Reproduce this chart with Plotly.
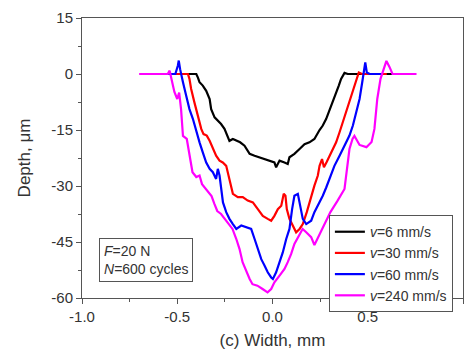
import plotly.graph_objects as go

# v = 6 mm/s (black)
x_v6 = [-0.615, -0.50, -0.40, -0.392, -0.383, -0.366, -0.348, -0.33, -0.322, -0.304, -0.287, -0.27, -0.252,
        -0.235, -0.226, -0.208, -0.19, -0.17, -0.147, -0.12, -0.094, -0.068, -0.042, -0.016, 0.01, 0.019,
        0.037, 0.063, 0.08, 0.089, 0.115, 0.142, 0.168, 0.194, 0.22, 0.247, 0.264, 0.282, 0.299, 0.317,
        0.334, 0.348, 0.36, 0.378, 0.395, 0.632]
y_v6 = [0, 0, 0, -0.9, -2.2, -3.1, -4.5, -6.7, -9.4, -11.6, -12.5, -13.4, -14.7,
        -16.5, -17.9, -17.4, -17.9, -18.3, -19.2, -21.4, -21.9, -22.3, -22.8, -23.2, -23.7, -25.0,
        -23.2, -23.7, -24.1, -22.3, -21.4, -20.1, -18.8, -18.3, -17.4, -15.0, -13.8, -12.0, -9.8, -7.6,
        -4.9, -3.1, -1.3, 0.3, 0, 0]

# v = 30 mm/s (red)
x_v30 = [-0.60, -0.50, -0.444, -0.436, -0.427, -0.41, -0.392, -0.374, -0.362, -0.345, -0.33, -0.313, -0.296,
         -0.278, -0.261, -0.243, -0.226, -0.208, -0.182, -0.156, -0.13, -0.103, -0.077, -0.051, -0.025,
         -0.007, 0.01, 0.028, 0.046, 0.059, 0.068, 0.075, 0.089, 0.107, 0.124, 0.142, 0.159, 0.18, 0.203,
         0.22, 0.238, 0.247, 0.26, 0.27, 0.285, 0.308, 0.334, 0.352, 0.369, 0.387, 0.404, 0.422, 0.439,
         0.453, 0.47, 0.60]
y_v30 = [0, 0, 0, -1.3, -4.0, -7.6, -11.2, -14.7, -16.1, -16.5, -17.9, -20.1, -21.9,
         -23.2, -23.7, -24.6, -28.1, -32.1, -33.0, -33.0, -33.9, -34.4, -36.2, -38.0, -38.8,
         -39.3, -38.0, -36.2, -35.3, -32.1, -32.6, -36.2, -38.8, -40.6, -42.4, -41.5, -40.2, -37.0, -32.6,
         -29.9, -27.2, -24.6, -22.8, -25.0, -23.5, -21.0, -18.3, -15.6, -12.9, -10.3, -7.6, -4.9, -2.2,
         0.4, 0, 0]

# v = 60 mm/s (blue)
x_v60 = [-0.60, -0.51, -0.497, -0.492, -0.485, -0.48, -0.47, -0.453, -0.436, -0.418, -0.40, -0.383, -0.366,
         -0.348, -0.33, -0.313, -0.296, -0.287, -0.278, -0.27, -0.26, -0.243, -0.226, -0.208, -0.19,
         -0.164, -0.138, -0.112, -0.094, -0.077, -0.059, -0.042, -0.025, -0.007, 0.002, 0.019, 0.037,
         0.054, 0.072, 0.089, 0.103, 0.115, 0.133, 0.145, 0.159, 0.177, 0.203, 0.22, 0.238, 0.264, 0.282,
         0.299, 0.325, 0.352, 0.378, 0.404, 0.422, 0.439, 0.457, 0.471, 0.48, 0.487, 0.495, 0.51, 0.58]
y_v60 = [0, 0, 2.2, 3.6, 1.3, 0, -2.2, -5.8, -9.4, -12.0, -15.6, -18.3, -21.0,
         -23.7, -25.4, -26.3, -28.1, -25.4, -27.2, -29.9, -34.4, -37.0, -38.8, -40.2, -41.5,
         -40.6, -41.1, -41.5, -44.2, -46.9, -49.6, -51.3, -53.1, -54.5, -54.9, -53.1, -50.4,
         -47.8, -44.2, -41.5, -36.2, -32.6, -32.1, -35.3, -38.8, -40.2, -39.3, -37.0, -35.3, -32.6, -30.4,
         -28.1, -24.6, -21.9, -19.2, -16.5, -13.8, -10.3, -6.7, -2.2, 0.4, 3.1, 0.4, 0, 0]

# v = 240 mm/s (magenta)
x_v240 = [-0.70, -0.60, -0.55, -0.54, -0.53, -0.515, -0.50, -0.49, -0.48, -0.47, -0.45, -0.435, -0.42,
          -0.40, -0.383, -0.37, -0.34, -0.32, -0.305, -0.29, -0.27, -0.25, -0.225, -0.21, -0.19, -0.173,
          -0.157, -0.138, -0.12, -0.105, -0.079, -0.052, -0.026, -0.007, 0.01, 0.037, 0.063, 0.08, 0.098,
          0.115, 0.133, 0.158, 0.177, 0.203, 0.22, 0.247, 0.273, 0.304, 0.341, 0.378, 0.404, 0.42, 0.43,
          0.457, 0.493, 0.52, 0.535, 0.55, 0.567, 0.583, 0.598, 0.614, 0.63, 0.756]
y_v240 = [0, 0, 0, 0.9, -1.3, -4.8, -6.7, -5.0, -9.4, -16.6, -17.4, -21.9, -26.3,
          -27.6, -27.2, -29.5, -31.6, -32.7, -34.8, -36.7, -37.5, -38.8, -40.6, -41.5, -44.2, -46.9,
          -50.4, -53.0, -54.9, -56.3, -56.7, -57.6, -58.5, -57.6, -55.8, -54.0, -52.2, -50.4, -48.2,
          -45.5, -43.7, -41.5, -42.4, -43.7, -45.8, -43.1, -40.2, -37.0, -34.0, -30.8, -20.1, -17.4, -16.6,
          -19.0, -19.6, -18.2, -14.7, -6.7, -1.3, 1.3, 3.5, 1.9, 0, 0]

series = [
    ("<i>v</i>=6 mm/s", x_v6, y_v6, "#000000"),
    ("<i>v</i>=30 mm/s", x_v30, y_v30, "#ff0000"),
    ("<i>v</i>=60 mm/s", x_v60, y_v60, "#0000ff"),
    ("<i>v</i>=240 mm/s", x_v240, y_v240, "#ff00ff"),
]

x_ticks = [-1.0, -0.5, 0.0, 0.5, 1.0]
y_ticks = [15, 0, -15, -30, -45, -60]

FONT = "Liberation Sans, Arial, sans-serif"

fig = go.Figure()
for name, xs, ys, col in series:
    fig.add_trace(go.Scatter(x=xs, y=ys, mode="lines", name=name,
                             line=dict(color=col, width=2.2)))

axis_common = dict(
    showline=True, linecolor="#555555", linewidth=1, mirror=True,
    ticks="outside", ticklen=5, tickcolor="#555555", tickwidth=1,
    showgrid=False, zeroline=False, automargin=False,
    tickfont=dict(family=FONT, size=15, color="#333333"),
)

fig.update_xaxes(range=[-1, 1], tickvals=x_ticks, ticktext=[f"{v:.1f}" for v in x_ticks],
                 minor=dict(ticks="outside", ticklen=3, dtick=0.25, tickcolor="#555555"),
                 title=dict(text="(c) Width, mm", standoff=10,
                            font=dict(family=FONT, size=17, color="#333333")),
                 **axis_common)
fig.update_yaxes(range=[-60, 15], tickvals=y_ticks, ticktext=[str(v) for v in y_ticks],
                 minor=dict(ticks="outside", ticklen=3, dtick=7.5, tickcolor="#555555"),
                 title=dict(text="Depth, μm", standoff=16,
                            font=dict(family=FONT, size=17, color="#333333")),
                 **axis_common)

fig.add_annotation(
    xref="paper", yref="paper", x=0.045, y=0.214, xanchor="left", yanchor="top",
    text="<i>F</i>=20 N<br><i>N</i>=600 cycles", align="left", showarrow=False,
    font=dict(family=FONT, size=14, color="#333333"),
    bordercolor="#555555", borderwidth=1, borderpad=4, bgcolor="white",
)

fig.update_layout(
    width=472, height=351,
    margin=dict(l=82, r=9, t=18, b=53),
    paper_bgcolor="white", plot_bgcolor="white",
    font=dict(family=FONT, color="#333333"),
    legend=dict(x=0.648, y=0.296, xanchor="left", yanchor="top",
                bordercolor="#555555", borderwidth=1, bgcolor="white",
                font=dict(family=FONT, size=14, color="#333333"),
                tracegroupgap=0, itemwidth=30),
)

fig.write_html("out.html")
